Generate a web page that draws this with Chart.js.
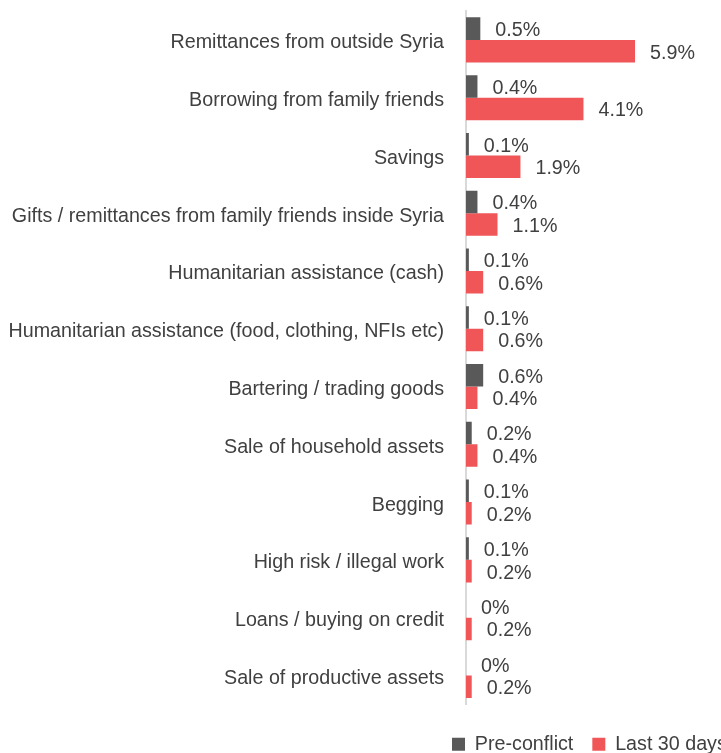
<!DOCTYPE html>
<html>
<head>
<meta charset="utf-8">
<title>Livelihood sources</title>
<script src="https://cdn.jsdelivr.net/npm/chart.js@4"></script>
<style>
  html, body { margin: 0; padding: 0; background: #fff; }
  #coping { display: block; }
</style>
</head>
<body>
<canvas id="coping" width="721" height="753"></canvas>
<script>
// Categories, top to bottom
const categories = [
    'Remittances from outside Syria',
    'Borrowing from family friends',
    'Savings',
    'Gifts / remittances from family friends inside Syria',
    'Humanitarian assistance (cash)',
    'Humanitarian assistance (food, clothing, NFIs etc)',
    'Bartering / trading goods',
    'Sale of household assets',
    'Begging',
    'High risk / illegal work',
    'Loans / buying on credit',
    'Sale of productive assets'
];

// Percent of households per source
const preConflict = [0.5, 0.4, 0.1, 0.4, 0.1, 0.1, 0.6, 0.2, 0.1, 0.1, 0, 0];
const last30Days  = [5.9, 4.1, 1.9, 1.1, 0.6, 0.6, 0.4, 0.4, 0.2, 0.2, 0.2, 0.2];

const seriesNames = ['Pre-conflict', 'Last 30 days'];

const FONT = { family: '"Liberation Sans", Arial, sans-serif', size: 19.7 };
const TEXT = '#404040';

// value labels at the end of each bar
const barLabels = {
    id: 'barLabels',
    afterDatasetsDraw(chart) {
        const ctx = chart.ctx;
        ctx.save();
        ctx.font = FONT.size + 'px ' + FONT.family;
        ctx.fillStyle = TEXT;
        ctx.textAlign = 'left';
        ctx.textBaseline = 'middle';
        chart.data.datasets.forEach((ds, i) => {
            chart.getDatasetMeta(i).data.forEach((bar, j) => {
                ctx.fillText(ds.data[j] + '%', bar.x + 15, bar.y + 2);
            });
        });
        ctx.restore();
    }
};

// push the legend down and to the right, so it sits in the bottom corner
const legendSpot = {
    id: 'legendSpot',
    afterLayout(chart) {
        const lg = chart.legend;
        if (!lg) return;
        lg.top += 11;
        lg.bottom += 11;
        lg.right = 452 + lg.lineWidths[0];
        lg.left = lg.right - lg.width;
    }
};

const ctx = document.getElementById('coping').getContext('2d');

const chart = new Chart(ctx, {
    type: 'bar',
    data: {
        labels: categories,
        datasets: [{
            label: seriesNames[0],
            data: preConflict,
            backgroundColor: '#595959',
            categoryPercentage: 0.78,
            barPercentage: 1
        }, {
            label: seriesNames[1],
            data: last30Days,
            backgroundColor: '#F05658',
            categoryPercentage: 0.78,
            barPercentage: 1
        }]
    },
    options: {
        indexAxis: 'y',
        responsive: false,
        animation: false,
        layout: { padding: { top: 11, left: 0, right: 0, bottom: 0 } },
        scales: {
            x: {
                display: false,
                min: 0,
                max: 8.9
            },
            y: {
                grid: { display: false, drawTicks: false },
                border: { display: true, color: '#D9D9D9', width: 2 },
                ticks: {
                    color: TEXT,
                    font: FONT,
                    padding: 22,
                    labelOffset: 3,
                    autoSkip: false
                },
                afterFit(scale) {
                    scale.width = 466;
                    scale.paddingTop = 0;
                    scale.paddingBottom = 0;
                }
            }
        },
        plugins: {
            legend: {
                position: 'bottom',
                align: 'end',
                labels: {
                    color: TEXT,
                    font: FONT,
                    boxWidth: 13,
                    boxHeight: 13,
                    padding: 19
                }
            },
            tooltip: { enabled: false }
        }
    },
    plugins: [barLabels, legendSpot]
});
</script>
</body>
</html>
